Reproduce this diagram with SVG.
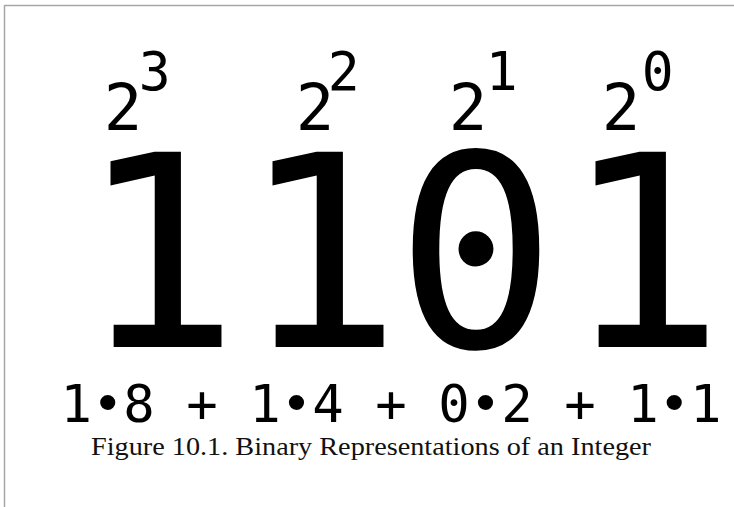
<svg xmlns="http://www.w3.org/2000/svg" width="734" height="507" viewBox="0 0 734 507">
<style>
.mono{font-family:"DejaVu Sans Mono",monospace;fill:#000}
.base{font-size:64px}
.sup{font-size:53px}
.big{font-size:268px;text-anchor:middle}
.sum{font-size:52.3px;text-anchor:middle}
.cap{font-family:"Liberation Serif","Times New Roman",serif;font-size:25px;fill:#111}
.frame{stroke:#a6a6a6;stroke-width:1.5;fill:none}
</style>
<rect width="734" height="507" fill="#fff"/>
<g id="frame">
<line class="frame" x1="4.5" y1="5.5" x2="734" y2="5.5"/>
<line class="frame" x1="4.5" y1="5" x2="4.5" y2="507"/>
</g>
<g id="powers">
<text class="mono base" x="103.7" y="130">2<tspan class="sup" dx="-3.5" dy="-40">3</tspan></text>
<text class="mono base" x="295.7" y="130">2<tspan class="sup" dx="-6.5" dy="-40">2</tspan></text>
<text class="mono base" x="448.7" y="130">2<tspan class="sup" dx="-1.5" dy="-40">1</tspan></text>
<text class="mono base" x="601.7" y="130">2<tspan class="sup" dx="1.5" dy="-40">0</tspan></text>
</g>
<g id="binary">
<text class="mono big" x="159" y="347">1</text>
<text class="mono big" x="321" y="347">1</text>
<text class="mono big" x="476" y="347">0</text>
<text class="mono big" x="644" y="347">1</text>
</g>
<g id="expansion">
<text class="mono sum" x="391" y="422">1•8 + 1•4 + 0•2 + 1•1</text>
</g>
<g id="caption">
<text class="cap" x="91" y="455" textLength="560" lengthAdjust="spacingAndGlyphs">Figure 10.1. Binary Representations of an Integer</text>
</g>
</svg>
